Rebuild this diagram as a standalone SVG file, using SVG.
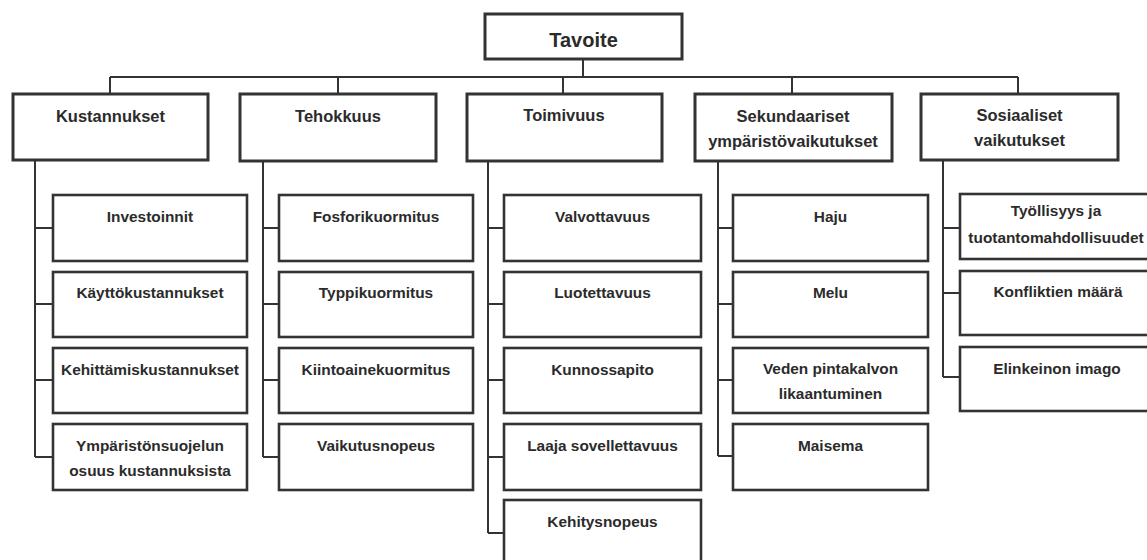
<svg xmlns="http://www.w3.org/2000/svg" width="1147" height="560" viewBox="0 0 1147 560">
<style>
.box{fill:#fff;stroke:#333;stroke-width:3}
.kid{fill:#fff;stroke:#333;stroke-width:2.6}
.ln{fill:none;stroke:#333;stroke-width:2}
text{font-family:"Liberation Sans",Arial,sans-serif;font-weight:bold;fill:#2b2b2b;text-anchor:middle}
.t0{font-size:20px}
.t1{font-size:16.5px}
.t2{font-size:15.4px}
</style>
<rect width="1147" height="560" fill="#fff"/>
<g id="connectors">
<path class="ln" d="M583,60V77M110,77H1018M110,77V94M338,77V94M563,77V94M792,77V94M1018,77V94"/>
<path class="ln" d="M35,160V457M35,228H53M35,304H53M35,380H53M35,457H53"/>
<path class="ln" d="M263,160V457M263,228H279M263,304H279M263,380H279M263,457H279"/>
<path class="ln" d="M488,161V533M488,228H504M488,304H504M488,380H504M488,457H504M488,533H504"/>
<path class="ln" d="M718,161V456M718,228H733M718,304H733M718,380H733M718,456H733"/>
<path class="ln" d="M943,160V377M943,228H960M943,293H960M943,377H960"/>
</g>
<g id="tavoite"><rect class="box" x="485" y="14" width="197" height="45"/><text class="t0" x="583.5" y="47">Tavoite</text></g>
<g id="kustannukset"><rect class="box" x="13" y="94" width="195" height="66"/><text class="t1" x="110.5" y="122">Kustannukset</text></g>
<g id="tehokkuus"><rect class="box" x="240" y="94" width="196" height="67"/><text class="t1" x="338" y="122">Tehokkuus</text></g>
<g id="toimivuus"><rect class="box" x="467" y="94" width="195" height="67"/><text class="t1" x="564" y="121">Toimivuus</text></g>
<g id="sekundaariset"><rect class="box" x="695" y="94" width="197" height="67"/><text class="t1" x="793" y="122">Sekundaariset</text><text class="t1" x="793" y="147">ympäristövaikutukset</text></g>
<g id="sosiaaliset"><rect class="box" x="921" y="94" width="197" height="66"/><text class="t1" x="1019.5" y="121">Sosiaaliset</text><text class="t1" x="1019.5" y="146">vaikutukset</text></g>

<g id="investoinnit"><rect class="kid" x="53" y="195" width="194" height="66"/><text class="t2" x="150" y="222">Investoinnit</text></g>
<g id="kayttokustannukset"><rect class="kid" x="53" y="272" width="194" height="65"/><text class="t2" x="150" y="298">Käyttökustannukset</text></g>
<g id="kehittamiskustannukset"><rect class="kid" x="53" y="348" width="194" height="65"/><text class="t2" x="150" y="375">Kehittämiskustannukset</text></g>
<g id="ymparistonsuojelun"><rect class="kid" x="53" y="424" width="194" height="66"/><text class="t2" x="150" y="451">Ympäristönsuojelun</text><text class="t2" x="150" y="476">osuus kustannuksista</text></g>

<g id="fosforikuormitus"><rect class="kid" x="279" y="195" width="194" height="66"/><text class="t2" x="376" y="222">Fosforikuormitus</text></g>
<g id="typpikuormitus"><rect class="kid" x="279" y="272" width="194" height="65"/><text class="t2" x="376" y="298">Typpikuormitus</text></g>
<g id="kiintoainekuormitus"><rect class="kid" x="279" y="348" width="194" height="65"/><text class="t2" x="376" y="375">Kiintoainekuormitus</text></g>
<g id="vaikutusnopeus"><rect class="kid" x="279" y="424" width="194" height="66"/><text class="t2" x="376" y="451">Vaikutusnopeus</text></g>

<g id="valvottavuus"><rect class="kid" x="504" y="195" width="197" height="66"/><text class="t2" x="602.5" y="222">Valvottavuus</text></g>
<g id="luotettavuus"><rect class="kid" x="504" y="272" width="197" height="65"/><text class="t2" x="602.5" y="298">Luotettavuus</text></g>
<g id="kunnossapito"><rect class="kid" x="504" y="348" width="197" height="65"/><text class="t2" x="602.5" y="375">Kunnossapito</text></g>
<g id="laaja"><rect class="kid" x="504" y="424" width="197" height="66"/><text class="t2" x="602.5" y="451">Laaja sovellettavuus</text></g>
<g id="kehitysnopeus"><rect class="kid" x="504" y="500" width="197" height="66"/><text class="t2" x="602.5" y="527">Kehitysnopeus</text></g>

<g id="haju"><rect class="kid" x="733" y="195" width="195" height="66"/><text class="t2" x="830.5" y="222">Haju</text></g>
<g id="melu"><rect class="kid" x="733" y="272" width="195" height="65"/><text class="t2" x="830.5" y="298">Melu</text></g>
<g id="veden"><rect class="kid" x="733" y="348" width="195" height="65"/><text class="t2" x="830.5" y="374">Veden pintakalvon</text><text class="t2" x="830.5" y="399">likaantuminen</text></g>
<g id="maisema"><rect class="kid" x="733" y="424" width="195" height="66"/><text class="t2" x="830.5" y="451">Maisema</text></g>

<g id="tyollisyys"><rect class="kid" x="960" y="194" width="195" height="65"/><text class="t2" x="1056" y="216">Työllisyys ja</text><text class="t2" x="1056" y="243">tuotantomahdollisuudet</text></g>
<g id="konfliktien"><rect class="kid" x="960" y="271" width="195" height="64"/><text class="t2" x="1058" y="297">Konfliktien määrä</text></g>
<g id="elinkeinon"><rect class="kid" x="960" y="347" width="195" height="64"/><text class="t2" x="1057" y="374">Elinkeinon imago</text></g>
</svg>
